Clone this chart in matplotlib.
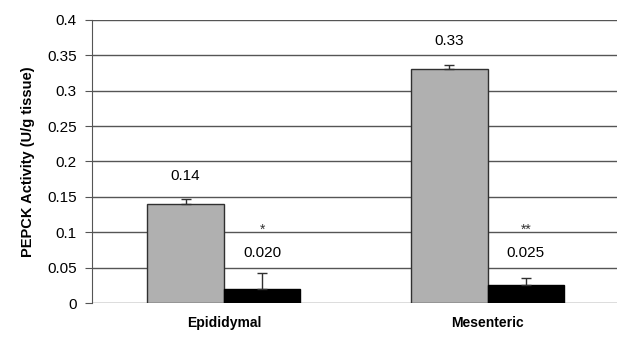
import numpy as np
import matplotlib.pyplot as plt

plt.rcParams['font.family'] = ['Liberation Sans', 'DejaVu Sans']

groups = ['Epididymal', 'Mesenteric']
control = [0.14, 0.33]
control_err = [0.007, 0.006]
treated = [0.020, 0.025]
treated_err = [0.023, 0.010]
control_labels = ['0.14', '0.33']
treated_labels = ['0.020', '0.025']
stars = ['*', '**']

fig = plt.figure(figsize=(6.17, 3.42), dpi=100)
ax = fig.add_axes([0.149, 0.114, 0.855, 0.828])

x = np.arange(len(groups))
w = 0.29
ax.bar(x - w/2, control, w, color='#b0b0b0', edgecolor='#303030', linewidth=1, zorder=3)
ax.bar(x + w/2, treated, w, color='black', edgecolor='black', linewidth=1, zorder=3)
ax.errorbar(x - w/2, control, yerr=[[0]*2, control_err], fmt='none', ecolor='#303030',
            elinewidth=1, capsize=3.5, zorder=4)
ax.errorbar(x + w/2, treated, yerr=[[0]*2, treated_err], fmt='none', ecolor='#303030',
            elinewidth=1, capsize=3.5, zorder=4)

for i in range(len(groups)):
    ax.text(x[i] - w/2, control[i] + 0.04, control_labels[i], ha='center', va='center', fontsize=11)
    ax.text(x[i] + w/2, 0.07, treated_labels[i], ha='center', va='center', fontsize=11)
    ax.text(x[i] + w/2, 0.103, stars[i], ha='center', va='center', fontsize=10, color='#333333')

ax.set_xlim(-0.5, 1.5)
ax.set_ylim(0, 0.4)
ax.set_yticks(np.arange(0, 0.401, 0.05))
ax.set_yticklabels(['0', '0.05', '0.1', '0.15', '0.2', '0.25', '0.3', '0.35', '0.4'])
ax.yaxis.grid(True, color='#555555', linewidth=1)
ax.set_axisbelow(True)
for s in ['top', 'right', 'bottom']:
    ax.spines[s].set_visible(False)
ax.spines['left'].set_color('#555555')
ax.tick_params(axis='y', length=5, color='#555555', labelsize=11, pad=6)
ax.set_xticks(x)
ax.set_xticklabels(groups, fontweight='bold', fontsize=10)
ax.tick_params(axis='x', length=0, pad=9)
ax.set_ylabel('PEPCK Activity (U/g tissue)', fontweight='bold', fontsize=10.5, labelpad=9)

fig.savefig('out.png')
